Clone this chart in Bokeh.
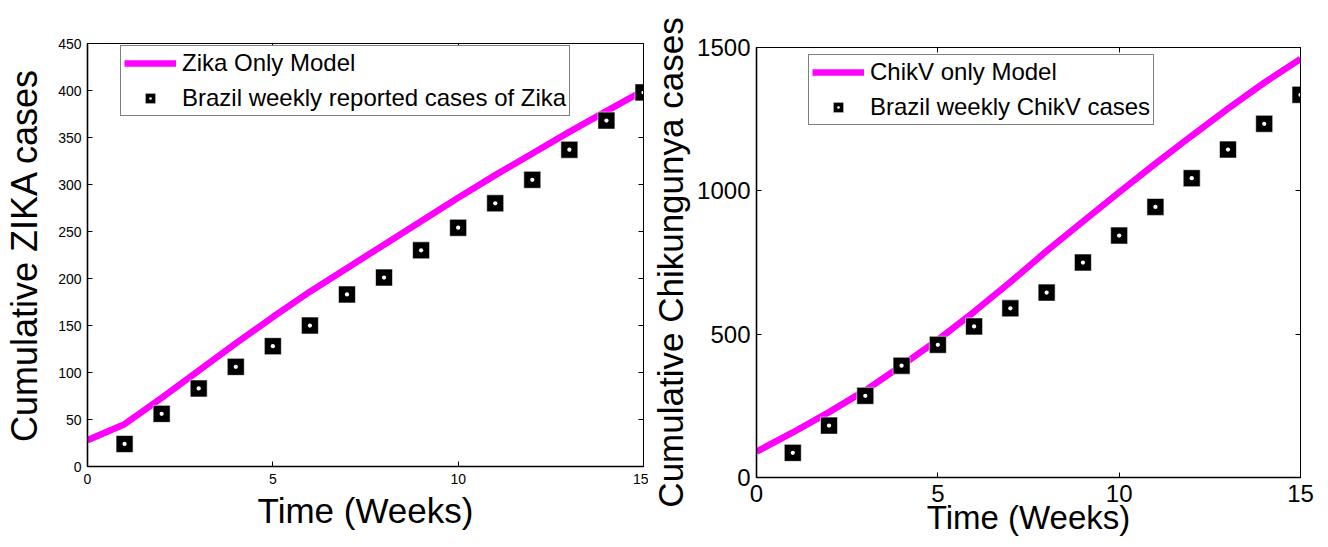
from bokeh.plotting import figure
from bokeh.layouts import row, column
from bokeh.models import Range1d, LinearAxis, FixedTicker, Legend, LegendItem
from bokeh.embed import file_html
from bokeh.resources import INLINE

# ---------------- data ----------------
weeks = list(range(1, 16))
model_weeks = list(range(0, 16))
zika_reported = [24, 56, 83, 106, 128, 150, 183, 201, 230, 254, 280, 305, 337, 368, 398]
zika_model = [28, 45, 73, 102, 131, 159, 186, 211, 236, 261, 286, 310, 333, 356, 378, 400]
chikv_reported = [86, 181, 285, 390, 463, 527, 590, 645, 750, 844, 944, 1044, 1144, 1234, 1335]
chikv_model = [90, 157, 228, 304, 390, 480, 578, 682, 790, 893, 995, 1095, 1192, 1287, 1377, 1460]

x_ticks = [0, 5, 10, 15]
zika_y_ticks = [0, 50, 100, 150, 200, 250, 300, 350, 400, 450]
chikv_y_ticks = [0, 500, 1000, 1500]

FONT = "Liberation Sans"
MAGENTA = "#FF00FF"


def build(width, height, borders, y_max, y_ticks, tick_fs, ylabel, ylab_fs, xlab_fs,
          ylab_standoff, xlab_standoff, x_lab_so, y_lab_so,
          model, reported, model_label, rep_label, legend_loc):
    p = figure(width=width, height=height, output_backend="svg", toolbar_location=None,
               x_range=Range1d(0, 15), y_range=Range1d(0, y_max),
               min_border_left=borders[0], min_border_right=borders[1],
               min_border_top=borders[2], min_border_bottom=borders[3])
    p.background_fill_color = "white"
    p.border_fill_color = "white"
    p.xgrid.visible = False
    p.ygrid.visible = False
    p.outline_line_color = "black"
    p.outline_line_width = 1

    for ax, ticks in ((p.xaxis[0], x_ticks), (p.yaxis[0], y_ticks)):
        ax.ticker = FixedTicker(ticks=ticks)
        ax.major_tick_in = 5
        ax.major_tick_out = 0
        ax.minor_tick_in = 0
        ax.minor_tick_out = 0
        ax.axis_line_color = "black"
        ax.axis_line_width = 1.6
        ax.major_tick_line_color = "black"
        ax.major_label_text_font = FONT
        ax.major_label_text_font_size = tick_fs
        ax.major_label_text_color = "black"
        ax.axis_label_text_font = FONT
        ax.axis_label_text_font_style = "normal"
        ax.axis_label_text_color = "black"

    p.xaxis.axis_label = "Time (Weeks)"
    p.xaxis.axis_label_text_font_size = xlab_fs
    p.xaxis.axis_label_standoff = xlab_standoff
    p.xaxis.major_label_standoff = x_lab_so
    p.yaxis.axis_label = ylabel
    p.yaxis.axis_label_text_font_size = ylab_fs
    p.yaxis.axis_label_standoff = ylab_standoff
    p.yaxis.major_label_standoff = y_lab_so

    # box-style tick marks on top and right (no labels)
    for side, ticks in (("above", x_ticks), ("right", y_ticks)):
        ax = LinearAxis(ticker=FixedTicker(ticks=ticks), major_label_text_font_size="1px",
                        major_label_text_color=None,
                        major_tick_in=5, major_tick_out=0, minor_tick_in=0, minor_tick_out=0,
                        major_label_standoff=0, axis_line_color="black", axis_line_width=1,
                        major_tick_line_color="black")
        p.add_layout(ax, side)

    ln = p.line(model_weeks, model, line_color=MAGENTA, line_width=6.5)
    sq = p.scatter(weeks, reported, marker="square_dot", size=17,
                   fill_color="black", line_color="white", line_width=0.6)

    legend = Legend(items=[LegendItem(label=model_label, renderers=[ln]),
                           LegendItem(label=rep_label, renderers=[sq])],
                    location=legend_loc, glyph_width=52, glyph_height=26,
                    label_standoff=6, padding=3, spacing=7, margin=0,
                    label_text_font=FONT, label_text_font_size="24px",
                    label_text_color="black",
                    border_line_color="black", border_line_width=1,
                    background_fill_color="white", background_fill_alpha=1.0)
    p.add_layout(legend)
    return p


left = build(648, 547, (87, 5, 43, 81), 450, zika_y_ticks, "14px",
             "Cumulative ZIKA cases", "36px", "35px",
             10, 4, 7, 6,
             zika_model, zika_reported, "Zika Only Model",
             "Brazil weekly reported cases of Zika", (33, 350))

right = build(678, 547, (108, 26, 47, 70), 1500, chikv_y_ticks, "24px",
              "Cumulative Chikungunya cases", "35px", "33px",
              4, -6, 7, 6,
              chikv_model, chikv_reported, "ChikV only Model",
              "Brazil weekly ChikV cases", (52, 352))

layout = row(column(left), column(right))
open("out.html", "w").write(file_html(layout, INLINE))
